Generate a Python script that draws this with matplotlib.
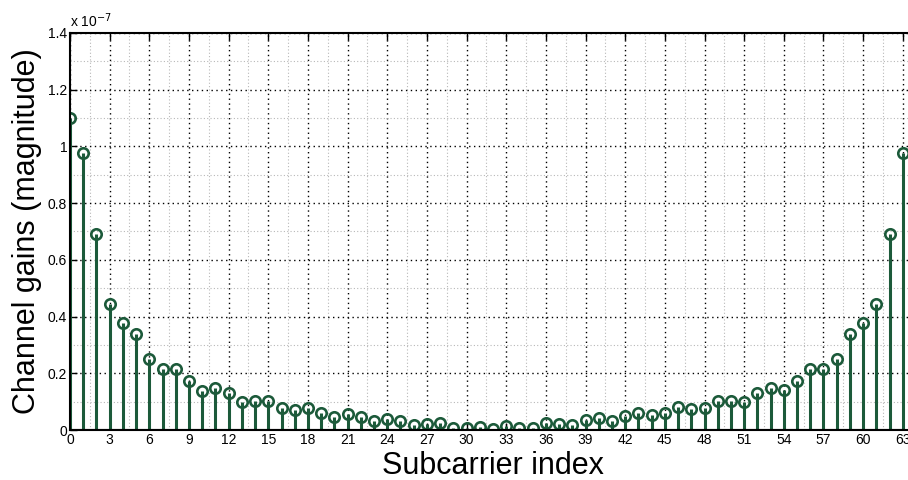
import numpy as np
import matplotlib
matplotlib.use("Agg")
import matplotlib.pyplot as plt
from matplotlib.ticker import MultipleLocator, FuncFormatter

plt.rcParams['font.family'] = ['Liberation Sans', 'DejaVu Sans']

# channel gain magnitude per subcarrier, in units of 1e-7
scale = 1e-7
subcarriers = list(range(64))
gains = [1.101, 0.978, 0.691, 0.445, 0.378, 0.338, 0.251, 0.214, 0.214, 0.174,
         0.138, 0.147, 0.131, 0.099, 0.104, 0.102, 0.076, 0.072, 0.076, 0.059,
         0.046, 0.056, 0.046, 0.031, 0.039, 0.033, 0.018, 0.022, 0.026, 0.008,
         0.006, 0.012, 0.002, 0.013, 0.006, 0.008, 0.025, 0.022, 0.018, 0.034,
         0.041, 0.033, 0.049, 0.059, 0.052, 0.061, 0.080, 0.073, 0.077, 0.102,
         0.104, 0.100, 0.131, 0.147, 0.140, 0.174, 0.214, 0.214, 0.251, 0.338,
         0.378, 0.446, 0.691, 0.978]

green = '#1c5a3a'

fig = plt.figure(figsize=(9.08, 4.8), dpi=100)
# axes run a little past the right edge, so the last tick label is clipped
ax = fig.add_axes([70/908, 50/480, 846/908, 397/480])

y = np.array(gains) * scale
markerline, stemlines, baseline = ax.stem(subcarriers, y, basefmt='k-')
plt.setp(stemlines, color=green, linewidth=2.2)
plt.setp(markerline, color=green, marker='o', markersize=7.5,
         markerfacecolor='none', markeredgewidth=1.9)
plt.setp(baseline, linewidth=1.5)

ax.set_xlim(0, 64)
ax.set_ylim(0, 1.4 * scale)

ax.xaxis.set_major_locator(MultipleLocator(3))
ax.xaxis.set_minor_locator(MultipleLocator(1.5))
ax.yaxis.set_major_locator(MultipleLocator(0.2 * scale))
ax.yaxis.set_minor_locator(MultipleLocator(0.1 * scale))
ax.yaxis.set_major_formatter(FuncFormatter(lambda v, p: '%g' % round(v / scale, 3)))

ax.grid(which='major', color='black', linestyle=(0, (1, 2.5)), linewidth=1.0)
ax.grid(which='minor', color='#b8b8b8', linestyle=(0, (1, 2)), linewidth=0.8)
ax.set_axisbelow(True)

ax.tick_params(which='both', direction='in', top=True, right=True,
               labelsize=10, pad=2)
ax.tick_params(which='major', length=5, width=1)
ax.tick_params(which='minor', length=0)
for s in ax.spines.values():
    s.set_linewidth(1.5)

ax.text(0, 1.008, r'x 10$^{-7}$', transform=ax.transAxes,
        fontsize=10, ha='left', va='bottom')

ax.set_xlabel('Subcarrier index', fontsize=22, labelpad=3)
ax.set_ylabel('Channel gains (magnitude)', fontsize=22, labelpad=4)

fig.savefig('out.png', dpi=100)
